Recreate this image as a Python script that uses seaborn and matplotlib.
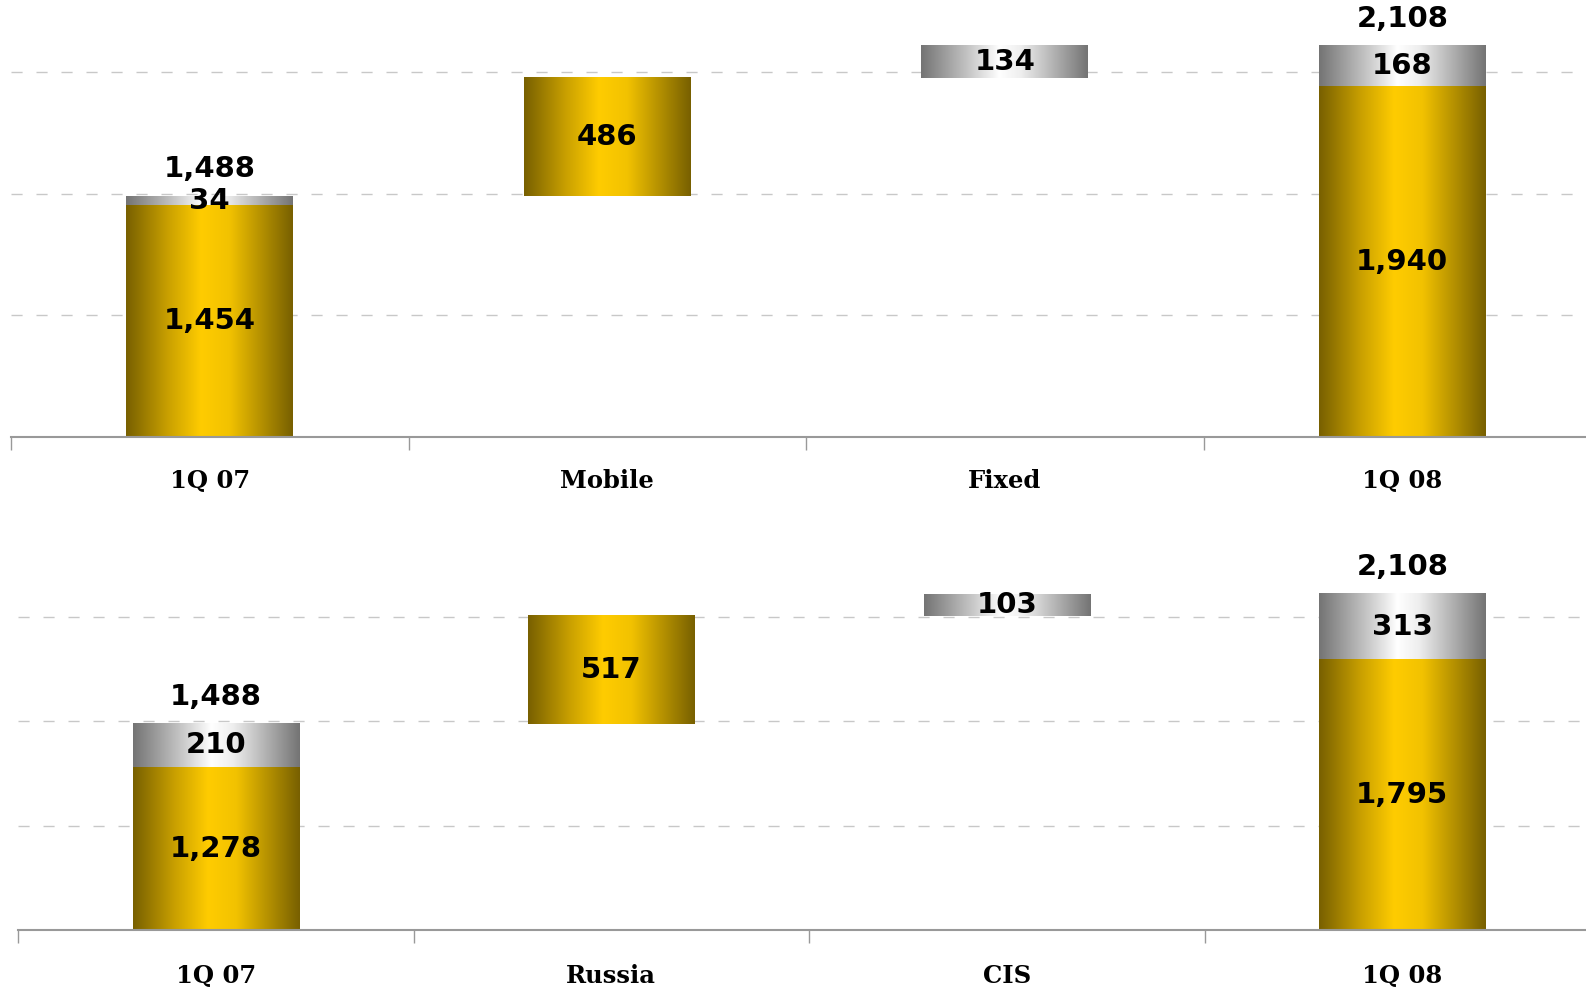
import numpy as np
import pandas as pd
import matplotlib
matplotlib.use("Agg")
import matplotlib.pyplot as plt
from matplotlib.colors import LinearSegmentedColormap
import seaborn as sns

# upper waterfall: revenue by business
top_cats = ['1Q 07', 'Mobile', 'Fixed', '1Q 08']
top_gold = [1454, 486, 0, 1940]
top_gray = [34, 0, 134, 168]
top_totals = [1488, None, None, 2108]

# lower waterfall: revenue by region
bot_cats = ['1Q 07', 'Russia', 'CIS', '1Q 08']
bot_gold = [1278, 517, 0, 1795]
bot_gray = [210, 0, 103, 313]
bot_totals = [1488, None, None, 2108]

gold_cmap = LinearSegmentedColormap.from_list(
    'gold', [(0, '#786000'), (0.25, '#C9A000'), (0.45, '#FFCC00'),
             (0.62, '#F2C200'), (1, '#786000')])
gray_cmap = LinearSegmentedColormap.from_list(
    'gray', [(0, '#747474'), (0.28, '#C4C4C4'), (0.47, '#FFFFFF'),
             (0.6, '#EEEEEE'), (1, '#747474')])


def segments(cats, gold, gray, totals):
    # work out where each piece of the waterfall starts
    rows = []
    running = 0
    for i, c in enumerate(cats):
        if totals[i] is not None:
            rows.append((c, 'gold', 0, gold[i]))
            rows.append((c, 'gray', gold[i], gray[i]))
            running = totals[i]
        else:
            if gold[i]:
                rows.append((c, 'gold', running, gold[i]))
                running += gold[i]
            if gray[i]:
                rows.append((c, 'gray', running, gray[i]))
                running += gray[i]
    return pd.DataFrame(rows, columns=['cat', 'kind', 'bottom', 'value'])


def draw_panel(ax, cats, gold, gray, totals, ylim, label_off):
    df = segments(cats, gold, gray, totals)
    for kind, cmap in [('gold', gold_cmap), ('gray', gray_cmap)]:
        sub = df[df.kind == kind]
        n0 = len(ax.patches)
        sns.barplot(data=sub, x='cat', y='value', order=cats,
                    bottom=sub['bottom'].values, width=0.42,
                    color='#FFCC00', errorbar=None, ax=ax)
        grad = np.linspace(0, 1, 256).reshape(1, -1)
        for p in ax.patches[n0:]:
            x0, y0 = p.get_x(), p.get_y()
            w, h = p.get_width(), p.get_height()
            ax.imshow(grad, cmap=cmap, aspect='auto', zorder=1,
                      extent=[x0, x0 + w, y0, y0 + h], interpolation='bilinear')
            p.set_visible(False)

    ax.set_xlim(-0.5, len(cats) - 0.5)
    ax.set_ylim(*ylim)

    # value labels inside each segment
    for _, r in df.iterrows():
        i = cats.index(r['cat'])
        lo = max(r['bottom'], ylim[0])
        hi = r['bottom'] + r['value']
        ax.text(i, (lo + hi) / 2, f"{int(r['value']):,}", ha='center',
                va='center', fontsize=21, fontweight='bold', color='black',
                family='DejaVu Sans', zorder=5)
    for i, t in enumerate(totals):
        if t is not None:
            ax.annotate(f"{t:,}", xy=(i, t), xytext=(0, 27),
                        textcoords='offset pixels', ha='center', va='center',
                        fontsize=21, fontweight='bold', color='black',
                        family='DejaVu Sans')

    ax.set_yticks([1000, 1500, 2000])
    ax.yaxis.grid(True, linestyle=(0, (8, 10)), color='#C8C8C8', linewidth=1)
    ax.xaxis.grid(False)
    ax.set_axisbelow(True)
    ax.tick_params(axis='y', left=False, labelleft=False)
    ax.set_xticks(range(len(cats)))
    ax.set_xticklabels(cats, fontsize=17.5, fontweight='bold',
                       family='DejaVu Serif', color='black')
    ax.set_xticks(np.arange(-0.5, len(cats)), minor=True)
    ax.tick_params(axis='x', which='major', bottom=False, length=0,
                   pad=label_off * 0.72)
    ax.tick_params(axis='x', which='minor', bottom=True, length=9, width=1,
                   color='#999999', direction='out')
    for lbl in ax.get_xticklabels():
        lbl.set_va('center')
    for s in ['top', 'left', 'right']:
        ax.spines[s].set_visible(False)
    ax.spines['bottom'].set_color('#999999')
    ax.spines['bottom'].set_linewidth(1.5)
    ax.set_xlabel('')
    ax.set_ylabel('')


sns.set_style('white')
W, H = 1586, 989
fig = plt.figure(figsize=(W / 100, H / 100), dpi=100)

ax1 = fig.add_axes([11 / W, 1 - 437 / H, 1590 / W, 437 / H])
draw_panel(ax1, top_cats, top_gold, top_gray, top_totals, (500, 2295), 44)

ax2 = fig.add_axes([18 / W, 1 - 930 / H, 1582 / W, 420 / H])
draw_panel(ax2, bot_cats, bot_gold, bot_gray, bot_totals, (500, 2510), 46)

fig.savefig('out.png', dpi=100)
